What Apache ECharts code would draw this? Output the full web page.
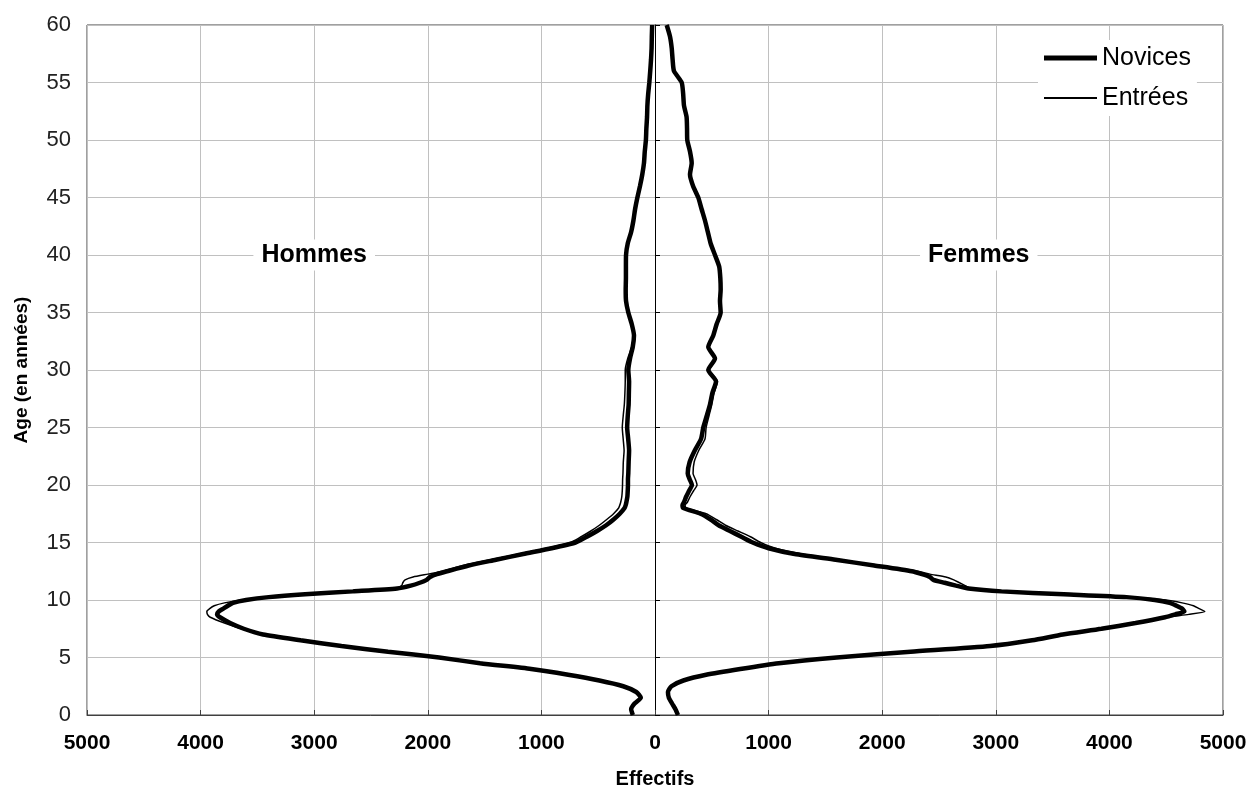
<!DOCTYPE html>
<html><head><meta charset="utf-8">
<script src="https://cdn.jsdelivr.net/npm/echarts@6/dist/echarts.min.js"></script>
<style>html,body{margin:0;padding:0;background:#fff}#c{width:1252px;height:794px}</style>
</head><body><div id="c"></div>
<script>
// Age (years)
const ages = [0,0.5,1,1.5,2,2.5,3,3.5,4,4.5,5,5.5,6,6.5,7,7.5,8,
  8.5,8.75,9,9.25,9.5,9.75,10,10.25,10.5,10.75,11,11.25,11.5,11.75,12,12.25,12.5,
  13,13.5,14,14.5,15,15.5,16,16.5,17,17.5,18,
  18.25,18.5,19,19.5,20,20.5,
  21,22,23,24,25,26,27,28,29,30,31,32,33,34,35,36,37,38,39,40,
  41,42,43,44,45,46,47,48,49,50,51,52,53,54,55,56,57,58,59,60];

const hommesNovices = [195,210,180,125,165,280,490,765,1090,1540,1900,2350,2760,3120,3450,3620,3740,
  3830,3855,3840,3800,3760,3715,3600,3400,3080,2660,2270,2150,2070,2010,1980,1920,1830,
  1640,1400,1160,910,700,600,510,430,365,310,268,
  258,252,243,240,238,238,
  235,232,228,236,245,240,232,230,228,235,220,196,185,205,235,255,258,256,256,255,
  240,210,190,175,155,132,112,97,90,80,76,70,67,60,50,42,35,30,28,25];

const hommesEntrees = [195,210,180,125,165,280,490,765,1090,1540,1900,2350,2760,3120,3450,3640,3790,
  3915,3940,3945,3920,3880,3790,3640,3420,3090,2670,2280,2230,2220,2200,2130,2000,1870,
  1690,1450,1200,950,745,650,565,490,425,365,320,
  310,302,292,288,286,285,
  282,279,272,280,288,280,270,265,262,262,240,205,190,208,238,258,261,259,259,258,
  243,212,192,177,157,134,114,99,92,82,78,72,69,62,52,44,37,32,30,27];

const femmesNovices = [202,180,150,122,114,145,250,450,750,1090,1600,2250,2950,3320,3590,3930,4230,
  4490,4580,4660,4640,4590,4530,4400,4150,3600,3050,2760,2650,2550,2450,2420,2350,2260,
  1930,1590,1230,1000,860,760,660,560,490,400,250,
  242,255,275,300,325,305,
  288,305,350,405,425,455,484,505,537,469,528,469,513,543,578,572,578,575,565,528,
  490,465,440,410,381,335,308,323,308,284,282,278,255,248,235,167,155,147,132,103];

const femmesEntrees = [202,180,150,122,114,145,250,450,750,1090,1600,2250,2950,3320,3590,3930,4230,
  4500,4700,4840,4790,4740,4640,4500,4200,3620,3070,2780,2730,2680,2630,2560,2420,2310,
  1960,1630,1290,1060,930,840,730,620,540,450,275,
  265,285,310,340,370,355,
  335,345,385,440,450,475,500,520,550,480,533,474,518,548,583,577,583,580,570,533,
  495,470,445,415,386,340,313,328,313,289,287,283,260,253,240,172,160,152,137,108];

const seriesNames = ['Novices', 'Entrées'];
const sideLabels = [{name: 'Hommes', coord: [-3000, 40]}, {name: 'Femmes', coord: [2850, 40]}];

const left = arr => ages.map((a, i) => [-arr[i], a]);
const right = arr => ages.map((a, i) => [arr[i], a]);

const FONT = 'Liberation Sans';
const thick = {color: '#000', width: 4.5};
const thin = {color: '#000', width: 1.5};
const SMOOTH = 0.2;

const chart = echarts.init(document.getElementById('c'), null, {renderer: 'canvas'});
chart.setOption({
  animation: false,
  backgroundColor: '#fff',
  grid: {left: 87, right: 29, top: 25, bottom: 78, show: true, borderColor: '#404040', borderWidth: 1, containLabel: false},
  legend: {
    data: [
      {name: seriesNames[0], icon: 'path://M0,0H53V5H0Z'},
      {name: seriesNames[1], icon: 'path://M0,0H53V2H0Z'}
    ],
    orient: 'vertical', left: 1038, top: 40,
    itemWidth: 53, itemHeight: 10, itemGap: 12, symbolKeepAspect: true,
    itemStyle: {color: '#000', borderWidth: 0},
    backgroundColor: '#fff', padding: [4, 6, 4, 6],
    textStyle: {fontFamily: FONT, fontSize: 25, color: '#000', lineHeight: 28}
  },
  xAxis: {
    type: 'value', min: -5000, max: 5000, interval: 1000,
    name: 'Effectifs', nameLocation: 'middle', nameGap: 54,
    nameTextStyle: {fontFamily: FONT, fontSize: 20, fontWeight: 'bold', color: '#000'},
    axisLine: {show: true, onZero: false, lineStyle: {color: '#404040', width: 1}},
    axisTick: {show: true, inside: true, length: 5, lineStyle: {color: '#404040'}},
    axisLabel: {formatter: v => String(Math.abs(v)), margin: 18, fontFamily: FONT, fontSize: 21, fontWeight: 'bold', color: '#000'},
    splitLine: {show: true, lineStyle: {color: '#c0c0c0', width: 1}}
  },
  yAxis: [{
    type: 'value', min: 0, max: 60, interval: 5, position: 'left',
    name: 'Age (en années)', nameLocation: 'middle', nameGap: 56,
    nameTextStyle: {fontFamily: FONT, fontSize: 19, fontWeight: 'bold', color: '#000'},
    axisLine: {show: false, onZero: false},
    axisTick: {show: false},
    axisLabel: {margin: 16, fontFamily: FONT, fontSize: 22, color: '#222'},
    splitLine: {show: true, lineStyle: {color: '#c0c0c0', width: 1}}
  }, {
    type: 'value', min: 0, max: 60, interval: 5, position: 'left',
    axisLine: {show: true, onZero: true, lineStyle: {color: '#000', width: 1}},
    axisTick: {show: true, inside: true, length: 5, lineStyle: {color: '#000'}},
    axisLabel: {show: false},
    splitLine: {show: false}
  }],
  series: [
    {name: seriesNames[0], type: 'line', symbol: 'none', smooth: SMOOTH, data: left(hommesNovices), lineStyle: thick, itemStyle: {color: '#000'}, z: 2,
      markPoint: {
        symbol: 'rect', symbolSize: 1, itemStyle: {color: 'rgba(0,0,0,0)'}, silent: true,
        label: {show: true, position: 'inside', formatter: '{b}', fontFamily: FONT, fontSize: 25, fontWeight: 'bold', color: '#000', backgroundColor: '#fff', padding: [3, 8]},
        data: sideLabels.map(s => ({name: s.name, coord: s.coord}))
      }},
    {name: seriesNames[0], type: 'line', symbol: 'none', smooth: SMOOTH, data: right(femmesNovices), lineStyle: thick, itemStyle: {color: '#000'}, z: 2},
    {name: seriesNames[1], type: 'line', symbol: 'none', smooth: SMOOTH, data: left(hommesEntrees), lineStyle: thin, itemStyle: {color: '#000'}, z: 3},
    {name: seriesNames[1], type: 'line', symbol: 'none', smooth: SMOOTH, data: right(femmesEntrees), lineStyle: thin, itemStyle: {color: '#000'}, z: 3}
  ]
});
</script></body></html>
